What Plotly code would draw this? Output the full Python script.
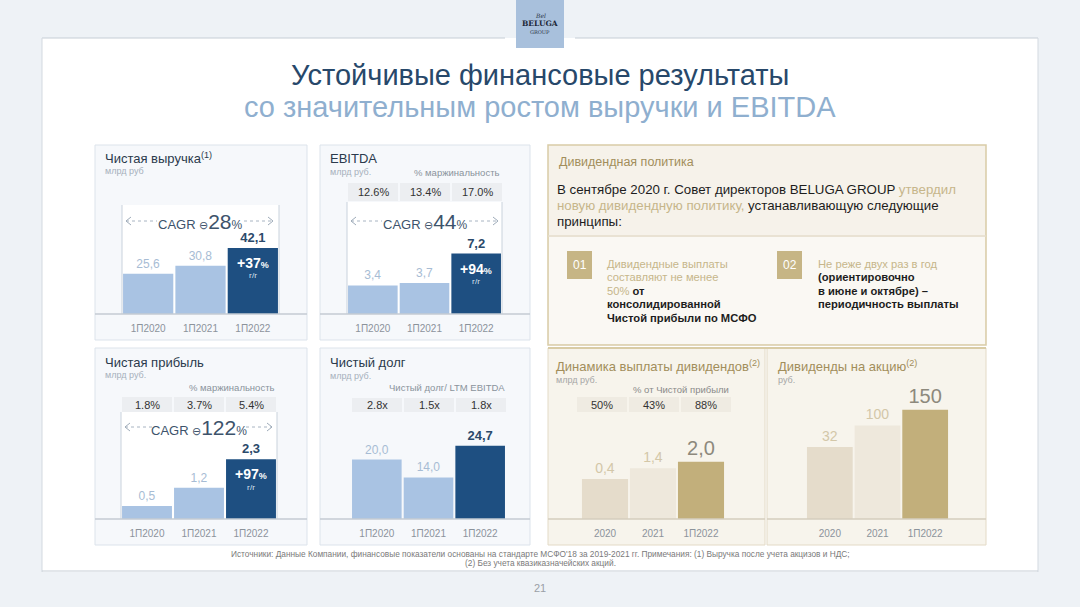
import plotly.graph_objects as go

W, H = 1080, 607


def px(x):
    return x / W


def py(y):
    return 1 - y / H


# ---------------- data ----------------
periods = ["1П2020", "1П2021", "1П2022"]
revenue = [25.6, 30.8, 42.1]
revenue_growth = "+37"
revenue_cagr = "28"

ebitda = [3.4, 3.7, 7.2]
ebitda_margin = ["12.6%", "13.4%", "17.0%"]
ebitda_growth = "+94"
ebitda_cagr = "44"

net_profit = [0.5, 1.2, 2.3]
net_profit_margin = ["1.8%", "3.7%", "5.4%"]
net_profit_growth = "+97"
net_profit_cagr = "122"

net_debt = [20.0, 14.0, 24.7]
debt_ratio = ["2.8x", "1.5x", "1.8x"]

div_periods = ["2020", "2021", "1П2022"]
dividends = [0.4, 1.4, 2.0]
payout = ["50%", "43%", "88%"]
dps = [32, 100, 150]

# ---------------- style ----------------
FONT = "Liberation Sans, Arial, sans-serif"
LB, DB = "#a9c3e3", "#1e4f81"
LBT, DBT = "#a7bcd4", "#2b4a6b"
BG1, BG2, GOLD = "#e5dccb", "#eee8dc", "#c2af7b"
BGT, BIGT = "#d3c7a8", "#8d897d"
GOLDTXT = "#a28e5b"
TICK = "#8c939b"


def fmt(v):
    return f"{v:.1f}".replace(".", ",")


fig = go.Figure()
shapes = []
ann = []


def rect(x0, y0, x1, y1, fill, line=None, lw=1):
    shapes.append(dict(type="rect", xref="paper", yref="paper", x0=px(x0), x1=px(x1),
                       y0=py(y1), y1=py(y0), fillcolor=fill,
                       line=dict(color=line or "rgba(0,0,0,0)", width=lw if line else 0),
                       layer="below"))


def hline(x0, x1, y, color, w=1, dash="solid", layer="above"):
    shapes.append(dict(type="line", xref="paper", yref="paper", x0=px(x0), x1=px(x1),
                       y0=py(y), y1=py(y), line=dict(color=color, width=w, dash=dash), layer=layer))


def vline(x, y0, y1, color, w=1, layer="below"):
    shapes.append(dict(type="line", xref="paper", yref="paper", x0=px(x), x1=px(x),
                       y0=py(y0), y1=py(y1), line=dict(color=color, width=w), layer=layer))


def text(x, y, s, size=11, color="#333", anchor="left", family=FONT):
    ann.append(dict(x=px(x), y=py(y), xref="paper", yref="paper", text=s, showarrow=False,
                    xanchor=anchor, yanchor="middle", font=dict(size=size, color=color, family=family)))


def chevron(x, y, d):
    p = f"M {px(x + 5 * d)} {py(y - 4)} L {px(x)} {py(y)} L {px(x + 5 * d)} {py(y + 4)}"
    shapes.append(dict(type="path", xref="paper", yref="paper", path=p,
                       line=dict(color="#9eabb9", width=1)))


# ---------------- slide frame ----------------
rect(42, 38, 1038, 572, "white")
hline(42, 505, 38, "#c6cdd5", 1.2, layer="below")
hline(575, 1038, 38, "#c6cdd5", 1.2, layer="below")
vline(42, 38, 572, "#d3d9e0")
vline(1038, 38, 572, "#d3d9e0")
hline(42, 1038, 571, "#c6cdd5", 1.2, layer="below")
rect(516, 0, 564, 48, "#a8c0dc")
text(540, 15, "<i>Bel</i>", 6, "#2a3444", "center", "DejaVu Serif")
text(540, 24, "<b>BELUGA</b>", 7.5, "#1c2738", "center", "DejaVu Serif")
text(540, 32, "GROUP", 5, "#2a3444", "center", "DejaVu Serif")

text(540, 75, "Устойчивые финансовые результаты", 29, "#27486a", "center",
     "Liberation Sans Narrow, Arial Narrow, Liberation Sans, sans-serif")
text(540, 107, "со значительным ростом выручки и EBITDA", 29, "#8fafcf", "center",
     "Liberation Sans Narrow, Arial Narrow, Liberation Sans, sans-serif")

# ---------------- blue panels ----------------
rect(95, 145, 307, 340, "#f6f8fb", "#dce3eb")
rect(320, 145, 530, 340, "#f6f8fb", "#dce3eb")
rect(95, 348, 307, 545, "#f6f8fb", "#dce3eb")
rect(320, 348, 530, 545, "#f6f8fb", "#dce3eb")

panels = [
    dict(i=1, x0=122, x1=279, base=314, top=200, lo=0, scale=1.568),
    dict(i=2, x0=347, x1=502, base=314, top=200, lo=0, scale=8.4),
    dict(i=3, x0=121, x1=277, base=519, top=405, lo=0, scale=26.0),
    dict(i=4, x0=351, x1=506, base=519, top=405, lo=0, scale=2.97),
    dict(i=5, x0=581, x1=725, base=519, top=405, lo=-3.3, scale=10.81),
    dict(i=6, x0=806, x1=949, base=519, top=405, lo=-196, scale=0.3161),
]

# inner white chart areas
rect(122, 205, 279, 314, "white")
rect(347, 202, 502, 314, "white")
rect(121, 412, 277, 519, "white")
for x, y0, y1 in [(122, 205, 314), (279, 205, 314), (347, 202, 314), (502, 202, 314),
                  (121, 412, 519), (277, 412, 519)]:
    vline(x, y0, y1, "#c9d2dc")

layout_axes = {}
for p in panels:
    i = p["i"]
    hi = p["lo"] + (p["base"] - p["top"]) / p["scale"]
    sx = "" if i == 1 else str(i)
    layout_axes[f"xaxis{sx}"] = dict(domain=[px(p["x0"]), px(p["x1"])], anchor=f"y{sx}",
                                     type="category", range=[-0.5, 2.5], showgrid=False,
                                     zeroline=False, showline=False, ticks="outside", ticklen=5,
                                     tickcolor="rgba(0,0,0,0)",
                                     tickfont=dict(size=10, color=TICK, family=FONT))
    layout_axes[f"yaxis{sx}"] = dict(domain=[py(p["base"]), py(p["top"])], anchor=f"x{sx}",
                                     range=[p["lo"], hi], visible=False, showgrid=False,
                                     zeroline=False)


def blue_bar(i, vals):
    sx = "" if i == 1 else str(i)
    labels = [fmt(v) for v in vals]
    labels[-1] = f"<b>{labels[-1]}</b>"
    fig.add_trace(go.Bar(x=periods, y=vals, xaxis=f"x{sx}", yaxis=f"y{sx}",
                         marker=dict(color=[LB, LB, DB], line=dict(width=0)),
                         text=labels, textposition="outside", cliponaxis=False,
                         constraintext="none",
                         textfont=dict(color=[LBT, LBT, DBT], size=[12, 12, 13], family=FONT),
                         hoverinfo="skip", showlegend=False))


blue_bar(1, revenue)
blue_bar(2, ebitda)
blue_bar(3, net_profit)
blue_bar(4, net_debt)

# beige bars (axis baseline offset)
for i, vals, cats in [(5, dividends, div_periods), (6, dps, div_periods)]:
    p = panels[i - 1]
    off = -p["lo"]
    labels = [fmt(v) for v in vals] if i == 5 else [str(v) for v in vals]
    fig.add_trace(go.Bar(x=cats, y=[v + off for v in vals], base=[-off] * 3,
                         xaxis=f"x{i}", yaxis=f"y{i}",
                         marker=dict(color=[BG1, BG2, GOLD], line=dict(width=0)),
                         text=labels, textposition="outside", cliponaxis=False,
                         constraintext="none",
                         textfont=dict(color=[BGT, BGT, BIGT], size=[14, 14, 20], family=FONT),
                         hoverinfo="skip", showlegend=False))

# growth labels inside dark bars
for i, vals, g in [(1, revenue, revenue_growth), (2, ebitda, ebitda_growth),
                   (3, net_profit, net_profit_growth)]:
    sx = "" if i == 1 else str(i)
    ann.append(dict(x=periods[2], y=vals[2], xref=f"x{sx}", yref=f"y{sx}", yshift=-15,
                    text=f"<b>{g}</b><span style='font-size:9px'><b>%</b></span>",
                    showarrow=False, font=dict(size=14, color="white", family=FONT)))
    ann.append(dict(x=periods[2], y=vals[2], xref=f"x{sx}", yref=f"y{sx}", yshift=-28,
                    text="г/г", showarrow=False, font=dict(size=8, color="#dfe8f2", family=FONT)))

# CAGR rows
for (cx, y, x0, x1, c, tl, tr) in [(200, 221, 126, 273, revenue_cagr, 157, 244),
                                    (425, 221, 351, 498, ebitda_cagr, 382, 469),
                                    (199, 427, 125, 272, net_profit_cagr, 154, 246)]:
    hline(x0, tl, y, "#a8b4c2", 1, "dot")
    hline(tr, x1, y, "#a8b4c2", 1, "dot")
    chevron(x0, y, 1)
    chevron(x1, y, -1)
    text(cx, y, f"CAGR <span style='font-size:11px'>⊖</span><span style='font-size:21px'>{c}</span>"
                f"<span style='font-size:12px'>%</span>", 13, "#3d536b", "center")

# panel titles
text(103, 158, "Чистая выручка<sup>(1)</sup>", 13, "#2b3a4c")
text(103, 171, "млрд руб", 9, "#a6b0bb")
text(328, 158, "EBITDA", 13, "#2b3a4c")
text(328, 172, "млрд руб.", 9, "#a6b0bb")
text(412, 172, "% маржинальность", 9.5, "#8a939c")
text(103, 362, "Чистая прибыль", 13, "#2b3a4c")
text(103, 375, "млрд руб.", 9, "#a6b0bb")
text(277, 387, "% маржинальность", 9.5, "#8a939c", "right")
text(328, 362, "Чистый долг", 13, "#2b3a4c")
text(328, 376, "млрд руб.", 9, "#a6b0bb")
text(507, 388, "Чистый долг/ LTM EBITDA", 9.5, "#8a939c", "right")


def cells(x0, x1, y0, y1, vals, fill="#eceef1", color="#333"):
    w = (x1 - x0) / len(vals)
    for k, v in enumerate(vals):
        a = x0 + k * w
        rect(a + 1, y0, a + w - 1, y1, fill)
        text(a + w / 2, (y0 + y1) / 2, v, 11, color, "center")


cells(347, 503, 183, 201, ebitda_margin)
cells(121, 277, 397, 412, net_profit_margin)
cells(351, 507, 398, 412, debt_ratio)

# ---------------- dividend area ----------------
rect(548, 145, 986, 345, "#f6f2ea", "#d9cca6", 1.5)
rect(549, 237, 985, 344, "#faf8f3")
hline(548, 986, 236, "#e4dccb", 1.5, layer="below")
rect(548, 348, 765, 545, "#f7f4ec", "#e3dac6")
rect(767, 348, 986, 545, "#f7f4ec", "#e3dac6")
hline(548, 986, 348, "#d9cca6", 2, layer="below")

text(557, 162, "Дивидендная политика", 12.5, GOLDTXT)
PF = "Liberation Sans, Arial, sans-serif"
GLT = "#c6b68a"
text(555, 189, f"В сентябре 2020 г. Совет директоров BELUGA GROUP <span style='color:{GLT}'>утвердил</span>",
     13.3, "#1d1d1d", family=PF)
text(555, 206, f"<span style='color:{GLT}'>новую дивидендную политику,</span> устанавливающую следующие",
     13.3, "#1d1d1d", family=PF)
text(555, 222, "принципы:", 13.3, "#1d1d1d", family=PF)

rect(567, 251, 592, 279, "#c6b585")
text(579.5, 265, "01", 12, "white", "center")
rect(777, 251, 802, 279, "#c6b585")
text(789.5, 265, "02", 12, "white", "center")
lines1 = [f"<span style='color:{GLT}'>Дивидендные выплаты</span>",
          f"<span style='color:{GLT}'>составляют не менее</span>",
          f"<span style='color:{GLT}'>50%</span> <b>от</b>",
          "<b>консолидированной</b>",
          "<b>Чистой прибыли по МСФО</b>"]
lines2 = [f"<span style='color:{GLT}'>Не реже двух раз в год</span>",
          "<b>(ориентировочно</b>",
          "<b>в июне и октябре) –</b>",
          "<b>периодичность выплаты</b>"]
for k, s in enumerate(lines1):
    text(605, 264 + k * 13.4, s, 11.2, "#1d1d1d")
for k, s in enumerate(lines2):
    text(816, 264 + k * 13.4, s, 11.2, "#1d1d1d")

text(554, 366, "Динамика выплаты дивидендов<sup>(2)</sup>", 13, GOLDTXT)
text(554, 380, "млрд руб.", 9, "#a6a6a6")
text(681, 389, "% от Чистой прибыли", 9.5, "#8a8a8a", "center")
cells(576, 732, 397, 412, payout, fill="#efebe2")
text(776, 366, "Дивиденды на акцию<sup>(2)</sup>", 13, GOLDTXT)
text(776, 380, "руб.", 9, "#a6a6a6")

# baselines
hline(95, 307, 314, "#c4cbd3", 1.5)
hline(320, 530, 314, "#c4cbd3", 1.5)
hline(95, 307, 519, "#c4cbd3", 1.5)
hline(320, 530, 519, "#c4cbd3", 1.5)
hline(548, 765, 519, "#d5cebe", 1.5)
hline(767, 986, 519, "#d5cebe", 1.5)

# footer
text(540, 554, "Источники: Данные Компании, финансовые показатели основаны на стандарте МСФО'18 за 2019-2021 гг. "
               "Примечания: (1) Выручка после учета акцизов и НДС;", 8.3, "#7a7a7a", "center")
text(540, 563, "(2) Без учета квазиказначейских акций.", 8.3, "#7a7a7a", "center")
text(540, 588, "21", 11, "#9aa0a6", "center")

fig.update_layout(width=W, height=H, margin=dict(l=0, r=0, t=0, b=0),
                  paper_bgcolor="#eef2f6", plot_bgcolor="rgba(0,0,0,0)",
                  bargap=0.04, shapes=shapes, annotations=ann,
                  font=dict(family=FONT), **layout_axes)

fig.write_html("out.html", config={"displayModeBar": False},
               post_script="document.body.style.margin='0';document.body.style.overflow='hidden';")
